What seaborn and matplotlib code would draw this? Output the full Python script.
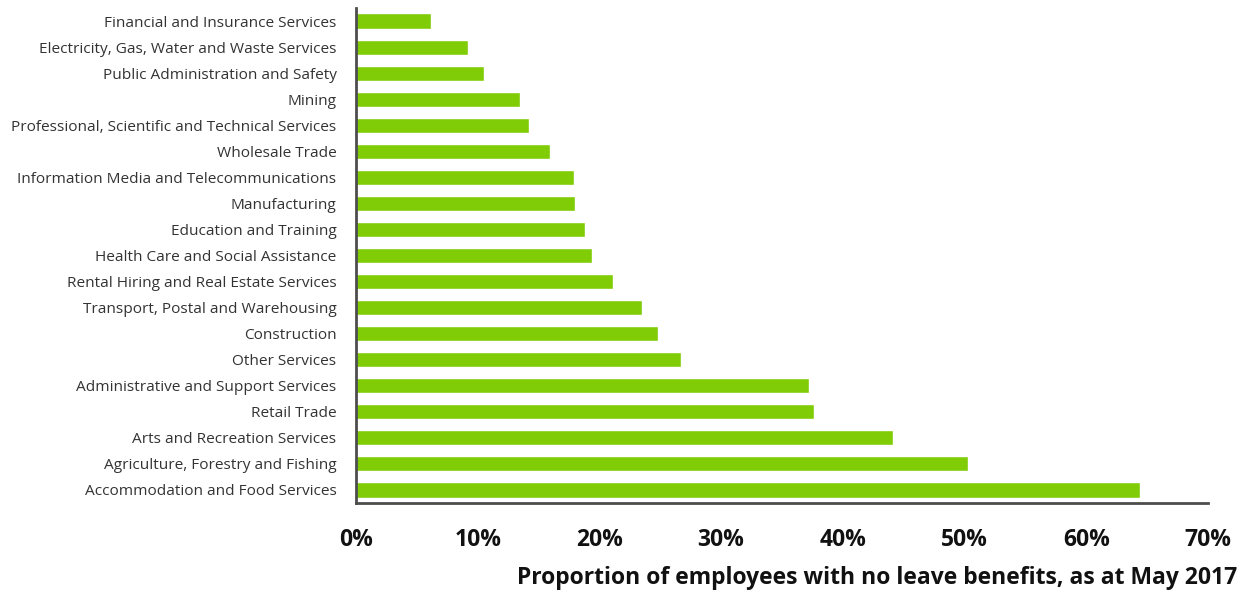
import matplotlib
matplotlib.use("Agg")
import matplotlib.pyplot as plt
import seaborn as sns
import numpy as np
import pandas as pd
from matplotlib.ticker import PercentFormatter, FixedLocator

sns.set_theme(style="white")
plt.rcParams['font.family'] = ['Open Sans', 'DejaVu Sans']

industries = [
    "Financial and Insurance Services",
    "Electricity, Gas, Water and Waste Services",
    "Public Administration and Safety",
    "Mining",
    "Professional, Scientific and Technical Services",
    "Wholesale Trade",
    "Information Media and Telecommunications",
    "Manufacturing",
    "Education and Training",
    "Health Care and Social Assistance",
    "Rental Hiring and Real Estate Services",
    "Transport, Postal and Warehousing",
    "Construction",
    "Other Services",
    "Administrative and Support Services",
    "Retail Trade",
    "Arts and Recreation Services",
    "Agriculture, Forestry and Fishing",
    "Accommodation and Food Services",
]
no_leave_pct = [6.2, 9.2, 10.5, 13.5, 14.2, 15.9, 17.9, 18.0, 18.8, 19.4,
                21.1, 23.5, 24.8, 26.7, 37.2, 37.6, 44.1, 50.3, 64.4]
x_ticks = [0, 10, 20, 30, 40, 50, 60, 70]

df = pd.DataFrame({"industry": industries, "pct": no_leave_pct})

fig = plt.figure(figsize=(12.43, 5.96), dpi=100)
ax = fig.add_axes([0.2864, 0.156, 0.9718 - 0.2864, 0.9866 - 0.156])

sns.barplot(data=df, x="pct", y="industry", orient="h", color="#80cc06",
            saturation=1, width=0.58, ax=ax)

ax.set_xlim(0, 70)
ax.set_ylim(len(industries) - 0.5, -0.5)
ax.xaxis.set_major_locator(FixedLocator(x_ticks))
ax.xaxis.set_major_formatter(PercentFormatter(decimals=0))
ax.set_xlabel("")
ax.set_ylabel("")

# spines
for s in ["top", "right"]:
    ax.spines[s].set_visible(False)
for s in ["left", "bottom"]:
    ax.spines[s].set_color("#4d4d4d")
    ax.spines[s].set_linewidth(2)

ax.tick_params(axis="x", direction="in", length=8, width=2, color="#4d4d4d",
               pad=18, labelsize=16.5, labelcolor="#111111")
for lbl in ax.get_xticklabels():
    lbl.set_fontweight("bold")

# y ticks at category boundaries, labels centred on bars
ax.tick_params(axis="y", which="major", length=0, pad=14, labelsize=11.1,
               labelcolor="#333333")
ax.set_yticks(np.arange(-0.5, len(industries)), minor=True)
ax.tick_params(axis="y", which="minor", direction="out", length=4, width=2,
               color="#4d4d4d")

fig.text(1237 / 1243, 1 - 578 / 596,
         "Proportion of employees with no leave benefits, as at May 2017",
         ha="right", va="center", fontsize=16.5, fontweight="bold", color="#111111")

fig.savefig("out.png", dpi=100)
